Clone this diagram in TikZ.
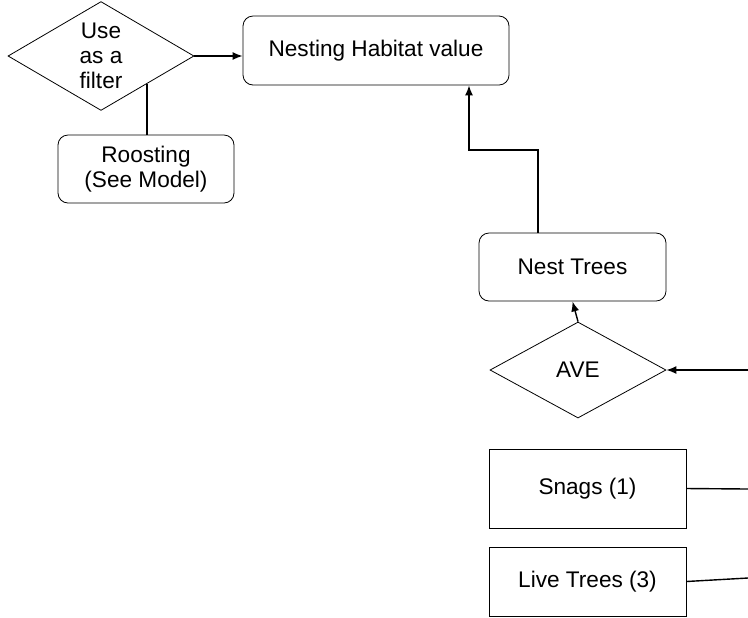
\documentclass[tikz,border=0pt]{standalone}
\usepackage{fontspec}
\setmainfont{Liberation Sans}
\usetikzlibrary{arrows.meta,positioning,shapes.geometric}

\begin{document}
\begin{tikzpicture}[
    x=0.5pt, y=-0.5pt,
    every node/.style={font=\fontsize{11.3}{12.6}\selectfont, align=center},
    roundbox/.style={draw, rounded corners=5pt, inner sep=0pt},
    plainbox/.style={draw, inner sep=0pt, minimum width=98.5pt},
    decision/.style={diamond, draw, inner sep=0pt},
    link/.style={line width=0.7pt},
    arrow/.style={link, -{Latex[length=5pt,width=4pt]}}
  ]
    \useasboundingbox (0,0) rectangle (748,617);

    % Top row
    \node[decision, minimum width=93pt, minimum height=49.5pt] (filter) at (101,56) {Use\\as a\\filter};
    \node[roundbox, minimum width=133pt, minimum height=34.5pt] (nesting) at (376,50.5) {Nesting Habitat value};
    \node[roundbox, minimum width=88pt, minimum height=34pt] (roost) at (146,169) {Roosting\\(See Model)};

    % Right column
    \node[roundbox, minimum width=93.5pt, minimum height=34pt] (nest) at (572.5,267) {Nest Trees};
    \node[decision, minimum width=88pt, minimum height=48pt] (ave) at (578,370) {AVE};
    \node[plainbox, minimum height=39.5pt] (snags) at (587.5,488.5) {Snags (1)};
    \node[plainbox, minimum height=34.5pt] (live) at (587.5,581.5) {Live Trees (3)};

    % Loose ends at the right border
    \coordinate (bend) at (469,150);
    \coordinate (aveIn) at (748,370);
    \coordinate (snagsOut) at (748,489);
    \coordinate (liveOut) at (748,578);

    % Connections
    \draw[arrow] (filter.east) -- (filter.east -| nesting.west);
    \draw[link] (filter.-31) -- (filter.-31 |- roost.north);
    \draw[arrow] ([xshift=-17.25pt]nest.north) |- (bend) -- (bend |- nesting.south);
    \draw[arrow] (ave.north) -- (nest.south);
    \draw[arrow] (aveIn) -- (ave.east);
    \draw[link] (snags.east) -- (snagsOut);
    \draw[link] (live.east) -- (liveOut);

  \end{tikzpicture}
\end{document}
